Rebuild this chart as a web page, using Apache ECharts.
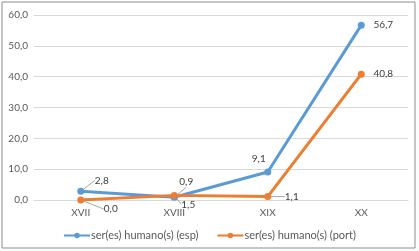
<!DOCTYPE html>
<html>
<head>
<meta charset="utf-8">
<script src="https://cdn.jsdelivr.net/npm/echarts@6/dist/echarts.min.js"></script>
<style>
  html, body { margin: 0; padding: 0; background: #fff; }
  #chart { width: 419px; height: 251px; }
</style>
</head>
<body>
<div id="chart"></div>
<script>
const categories = ["XVII", "XVIII", "XIX", "XX"];
const espValues = [2.8, 0.9, 9.1, 56.7];
const portValues = [0.0, 1.5, 1.1, 40.8];
const seriesNames = ["ser(es) humano(s) (esp)", "ser(es) humano(s) (port)"];

// where each data label sits relative to its point (dx, dy), and whether it has a leader line
const espLabelShift = [[21, -11], [12, -15], [-9, -13], [22, 0]];
const portLabelShift = [[30, 9], [14, 9], [24, 0], [22, 0]];
const espLeader = [true, true, false, false];
const portLeader = [true, true, true, false];

const fmt = v => v.toFixed(1).replace(".", ",");
const font = "Lato, 'Liberation Sans', sans-serif";

const chart = echarts.init(document.getElementById("chart"));

function makeSeries(name, values, color, shifts, leaders) {
  return {
    name: name,
    type: "line",
    data: values.map((v, i) => ({ value: v, labelLine: { show: leaders[i] } })),
    symbol: "circle",
    symbolSize: 7,
    lineStyle: { color: color, width: 3 },
    itemStyle: { color: color },
    label: {
      show: true,
      position: "inside",
      color: "#404040",
      fontSize: 10,
      fontFamily: font,
      formatter: p => fmt(p.value),
    },
    labelLine: { show: true, lineStyle: { color: "#a6a6a6", width: 1 } },
    labelLayout: p => ({
      dx: shifts[p.dataIndex][0],
      dy: shifts[p.dataIndex][1],
    }),
    z: 3,
  };
}

chart.setOption({
  animation: false,
  backgroundColor: "#fff",
  textStyle: { fontFamily: font },
  graphic: [
    {
      type: "rect",
      shape: { x: 2, y: 2, width: 413, height: 246 },
      style: { fill: "none", stroke: "#8c8c8c", lineWidth: 1 },
      silent: true,
    },
  ],
  grid: { left: 34, right: 11, top: 15, bottom: 51 },
  legend: {
    bottom: 5,
    left: "center",
    itemWidth: 26,
    itemHeight: 7,
    itemGap: 18,
    textStyle: { color: "#595959", fontSize: 11, fontFamily: font, padding: [0, 0, 0, -4] },
    data: seriesNames,
  },
  xAxis: {
    type: "category",
    data: categories,
    boundaryGap: true,
    axisLine: { lineStyle: { color: "#d9d9d9" } },
    axisTick: { show: false },
    axisLabel: { color: "#595959", fontSize: 10, margin: 8 },
  },
  yAxis: {
    type: "value",
    min: 0,
    max: 60,
    interval: 10,
    axisLine: { show: false },
    axisTick: { show: false },
    axisLabel: { color: "#595959", fontSize: 10, formatter: fmt, margin: 6 },
    splitLine: { lineStyle: { color: "#d9d9d9" } },
  },
  series: [
    makeSeries(seriesNames[0], espValues, "#5b9bd5", espLabelShift, espLeader),
    makeSeries(seriesNames[1], portValues, "#ed7d31", portLabelShift, portLeader),
  ],
});
</script>
</body>
</html>
